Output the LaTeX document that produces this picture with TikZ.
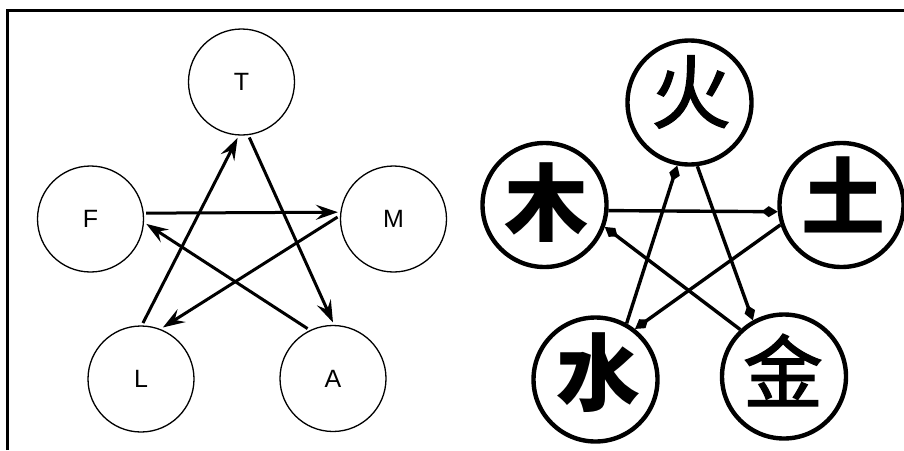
\documentclass[tikz,border=0pt]{standalone}
\usepackage{fontspec}
\setmainfont{Liberation Sans}
\newfontfamily\cjk{Noto Sans CJK SC}
\newfontfamily\cjkmid[FakeBold=1.6]{Noto Sans CJK SC}
\newcommand\elemfont{\fontsize{25}{27}\selectfont}
\usetikzlibrary{arrows.meta}
\begin{document}
\begin{tikzpicture}[x=1pt,y=-1pt,
  elem/.style={circle, draw, line width=1.3pt, minimum size=106pt, inner sep=0pt,
    outer sep=3pt},
  link/.style={line width=3pt, -{Stealth[length=22pt,width=15pt,inset=8pt]}},
  wxcircle/.style={circle, draw, line width=4.4pt, minimum size=124pt, inner sep=0pt},
  glyph/.style={inner sep=0pt, font=\fontsize{80}{80}\cjkmid},
  heavy/.style={font=\fontsize{84}{84}\cjk\bfseries},
  wxlink/.style={line width=3.4pt, -{Kite[length=16pt,width=11pt,inset=7pt]}}]
\useasboundingbox (0,0) rectangle (904,450);
% frame
\draw[line width=3pt] (7,450) -- (7,10) -- (904,10);

% left pentagram
\node[elem] (T) at (241.5,82) {\elemfont T};
\node[elem] (F) at (90.5,219) {\elemfont F};
\node[elem] (M) at (393.5,219) {\elemfont M};
\node[elem] (L) at (141,379) {\elemfont L};
\node[elem] (A) at (333,378.5) {\elemfont A};

\draw[link] (F.6) -- (M.173);
\draw[link] (M.178) -- (L.67);
\draw[link] (L.88) -- (T.266);
\draw[link] (T.278) -- (A.90);
\draw[link] (A.117) -- (F.355);

% right pentagram
\node[wxcircle] (huo)  at (689.5,102.5) {};
\node[wxcircle] (tu)   at (841.5,205) {};
\node[wxcircle] (mu)   at (544.5,205) {};
\node[wxcircle] (shui) at (595.5,379.5) {};
\node[wxcircle] (jin)  at (784,376.5) {};

\node[glyph] (huoc)  at (691,92) {火};
\node[glyph, heavy] (tuc)   at (843,195) {土};
\node[glyph, heavy] (muc)   at (546,203) {木};
\node[glyph, heavy] (shuic) at (598,373) {水};
\node[glyph] (jinc)  at (783,370) {金};

\draw[wxlink] (mu.-5) -- (tu.186);
\draw[wxlink] (tu.198) -- (shui.52);
\draw[wxlink] (shui.61) -- (huo.259);
\draw[wxlink] (huo.277) -- (jin.119);
\draw[wxlink] (jin.133) -- (mu.340);
\end{tikzpicture}
\end{document}
